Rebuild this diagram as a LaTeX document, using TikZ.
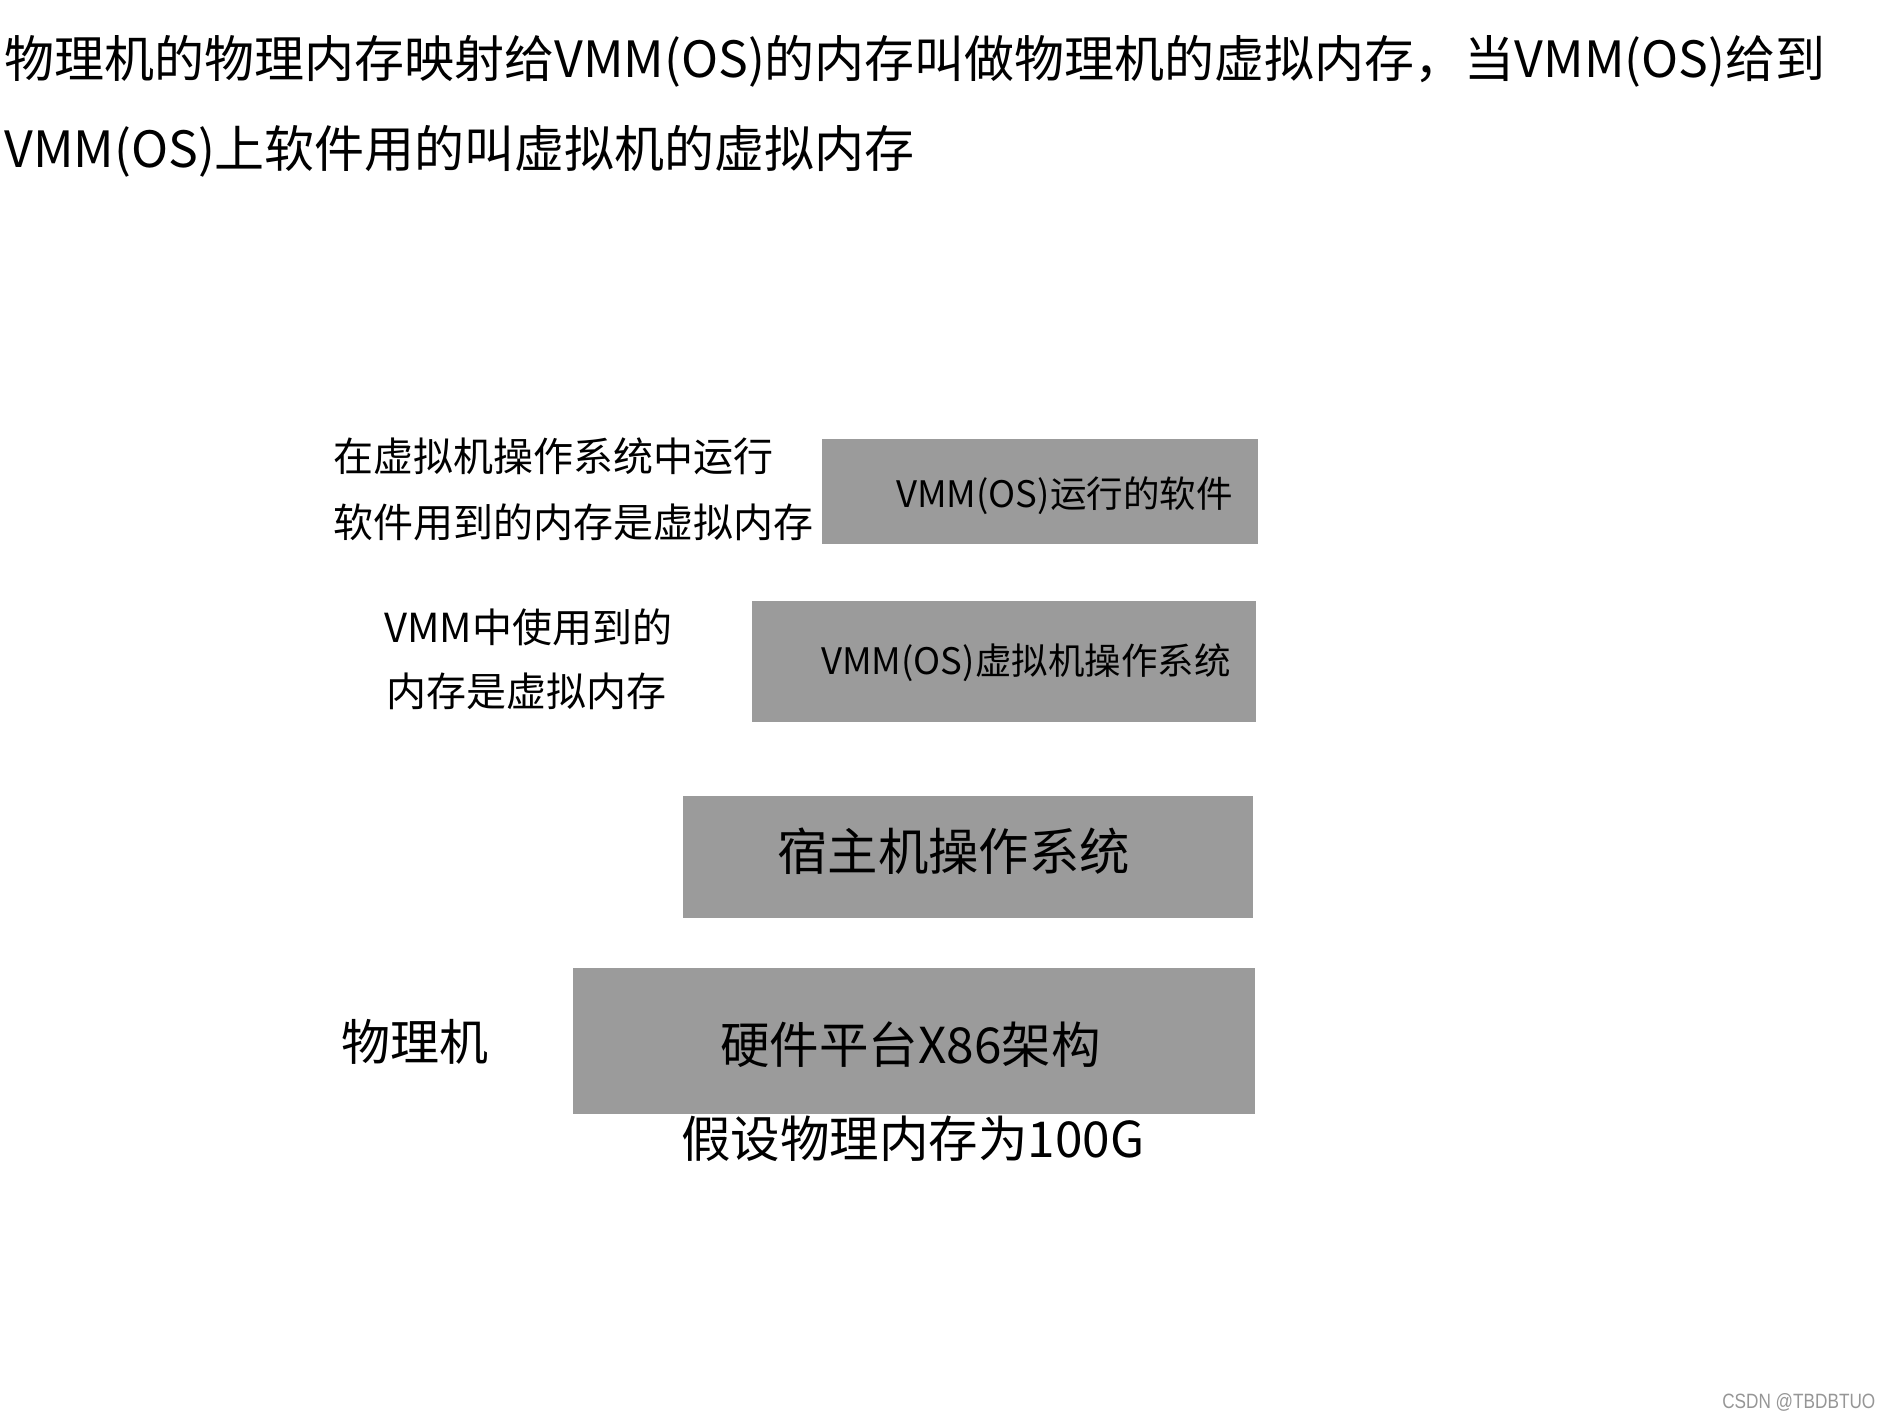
\documentclass[tikz,border=0pt]{standalone}
\usepackage{fontspec}
\setmainfont{Noto Sans CJK SC}
\newfontfamily\wmfont{Liberation Sans}
\definecolor{boxgray}{RGB}{155,155,155}
\definecolor{wmgray}{RGB}{150,150,150}
\newcommand{\fpx}[1]{\fontsize{\fpeval{#1*0.75}pt}{\fpeval{#1*0.9}pt}\selectfont}
\tikzset{
  layer/.style={fill=boxgray, draw=none},
  txt/.style={inner sep=0pt, anchor=base west, text=black},
}
\begin{document}
\begin{tikzpicture}[x=0.75pt, y=-0.75pt]
\useasboundingbox (0,0) rectangle (1890,1417);
% title
\node[txt, font=\fpx{50}] (t1) at (4,77) {物理机的物理内存映射给VMM(OS)的内存叫做物理机的虚拟内存，当VMM(OS)给到};
\node[txt, font=\fpx{50}] (t2) at (4,167) {VMM(OS)上软件用的叫虚拟机的虚拟内存};
% boxes
\path[layer] (822,439) rectangle (1258,544) coordinate (b1);
\path[layer] (752,601) rectangle (1256,722) coordinate (b2);
\path[layer] (683,796) rectangle (1253,918) coordinate (b3);
\path[layer] (573,968) rectangle (1255,1114) coordinate (b4);
% box texts
\node[txt, font=\fpx{36.5}] (s1) at (896,507) {VMM(OS)运行的软件};
\node[txt, font=\fpx{36.5}] (s2) at (821,674) {VMM(OS)虚拟机操作系统};
\node[txt, font=\fpx{50.4}] (s3) at (777,870) {宿主机操作系统};
\node[txt, font=\fpx{49.5}] (s4) at (720,1063) {硬件平台X86架构};
% side labels
\node[txt, font=\fpx{40}] (l1a) at (333,471) {在虚拟机操作系统中运行};
\node[txt, font=\fpx{40}] (l1b) at (333,537) {软件用到的内存是虚拟内存};
\node[txt, font=\fpx{40}] (l2a) at (384,642) {VMM中使用到的};
\node[txt, font=\fpx{40}] (l2b) at (386,706) {内存是虚拟内存};
\node[txt, font=\fpx{49}] (l3) at (341,1060) {物理机};
\node[txt, font=\fpx{49.5}] (l4) at (681,1157) {假设物理内存为100G};
% watermark
\node[txt, text=wmgray] (wm) at (1722,1408) {\resizebox{114.75pt}{11.25pt}{\wmfont CSDN @TBDBTUO}};
\end{tikzpicture}
\end{document}
